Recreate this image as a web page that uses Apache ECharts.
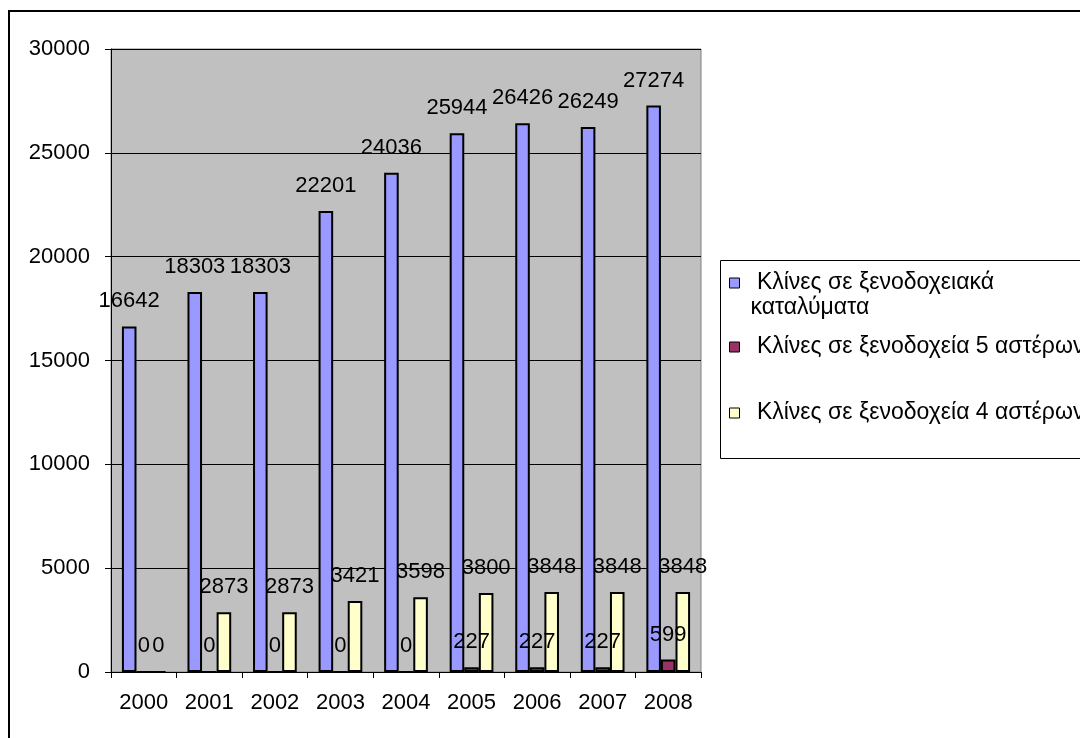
<!DOCTYPE html>
<html>
<head>
<meta charset="utf-8">
<script src="https://cdn.jsdelivr.net/npm/echarts@6/dist/echarts.min.js"></script>
<style>
  html, body { margin: 0; padding: 0; background: #fff; }
  #chart { width: 1080px; height: 738px; }
</style>
</head>
<body>
<div id="chart"></div>
<script>
const years = ['2000', '2001', '2002', '2003', '2004', '2005', '2006', '2007', '2008']
const hotelBeds = [16642, 18303, 18303, 22201, 24036, 25944, 26426, 26249, 27274]
const fiveStarBeds = [0, 0, 0, 0, 0, 227, 227, 227, 599]
const fourStarBeds = [0, 2873, 2873, 3421, 3598, 3800, 3848, 3848, 3848]
const yTicks = { min: 0, max: 30000, interval: 5000 }

const names = [
  'Κλίνες σε ξενοδοχειακά καταλύματα',
  'Κλίνες σε ξενοδοχεία 5 αστέρων',
  'Κλίνες σε ξενοδοχεία 4 αστέρων',
]
const colors = ['#9999FF', '#993366', '#FFFFCC']

const font = "'Liberation Sans', Arial, sans-serif"
const chart = echarts.init(document.getElementById('chart'), null, { renderer: 'canvas' })

// one legend per entry so each row can sit where it is in the picture
function legendAt(name, top, formatter) {
  return {
    show: true,
    data: [{ name: name, icon: 'rect' }],
    orient: 'vertical',
    left: 729,
    top: top,
    padding: 0,
    itemWidth: 10,
    itemHeight: 10,
    selectedMode: false,
    itemStyle: { borderColor: '#000', borderWidth: 1 },
    formatter: formatter,
    textStyle: { fontFamily: font, fontSize: 23, color: '#000', lineHeight: 25, padding: [0, 0, 0, 6] },
  }
}

function barSeries(i, values) {
  return {
    name: names[i],
    type: 'bar',
    data: values,
    barGap: '0%',
    barCategoryGap: '33.3%',
    itemStyle: { color: colors[i], borderColor: '#000', borderWidth: 2 },
    label: {
      show: true,
      position: 'top',
      distance: 14,
      color: '#000',
      fontFamily: font,
      fontSize: 22,
    },
  }
}

chart.setOption({
  animation: false,
  backgroundColor: '#fff',
  textStyle: { fontFamily: font },
  graphic: [
    // outer chart frame (only top and left edges are inside the picture)
    { type: 'rect', shape: { x: 9, y: 11, width: 1200, height: 1000 }, style: { fill: 'none', stroke: '#000', lineWidth: 2 } },
    // legend box
    { type: 'rect', shape: { x: 720.5, y: 260.5, width: 500, height: 198 }, style: { fill: 'none', stroke: '#000', lineWidth: 1 } },
  ],
  legend: [
    legendAt(names[0], 245.5, () => '\n Κλίνες σε ξενοδοχειακά\nκαταλύματα'),
    legendAt(names[1], 334.5, () => ' ' + names[1]),
    legendAt(names[2], 400.5, () => ' ' + names[2]),
  ],
  grid: {
    left: 111,
    top: 49,
    right: 379,
    bottom: 66,
    show: true,
    backgroundColor: '#C0C0C0',
    borderColor: '#808080',
    borderWidth: 1,
  },
  xAxis: {
    type: 'category',
    data: years,
    boundaryGap: true,
    axisLine: { lineStyle: { color: '#000', width: 1 } },
    axisTick: { show: true, length: 6, lineStyle: { color: '#000' } },
    axisLabel: { color: '#000', fontSize: 22, fontFamily: font, margin: 20 },
    splitLine: { show: false },
  },
  yAxis: {
    type: 'value',
    min: yTicks.min,
    max: yTicks.max,
    interval: yTicks.interval,
    axisLine: { show: true, lineStyle: { color: '#000', width: 1 } },
    axisTick: { show: true, length: 6, lineStyle: { color: '#000' } },
    axisLabel: { color: '#000', fontSize: 22, fontFamily: font, margin: 21, formatter: (v) => String(v) },
    splitLine: { show: true, lineStyle: { color: '#000', width: 1 } },
  },
  series: [
    barSeries(0, hotelBeds),
    barSeries(1, fiveStarBeds),
    barSeries(2, fourStarBeds),
  ],
})
</script>
</body>
</html>
